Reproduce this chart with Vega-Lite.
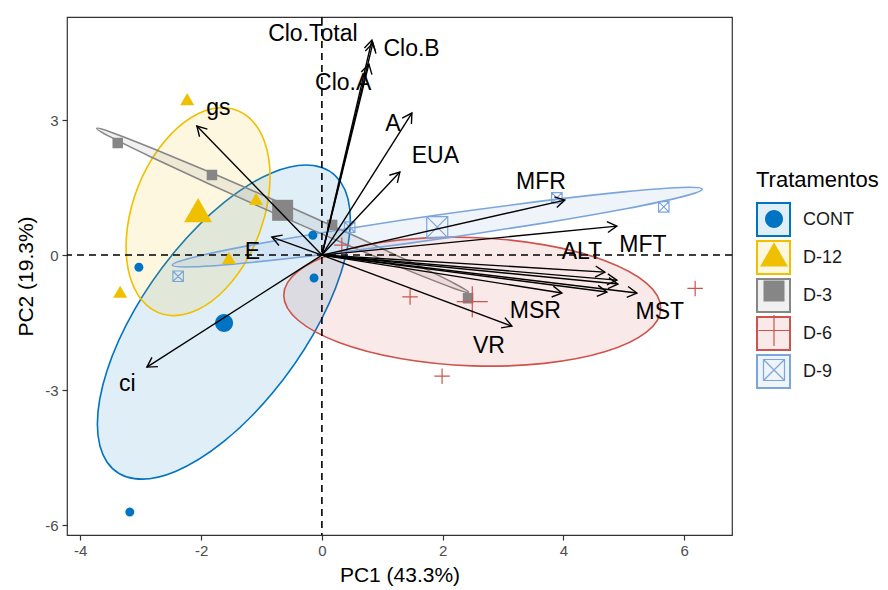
{
  "$schema": "https://vega.github.io/schema/vega-lite/v6.json",
  "width": 665,
  "height": 518,
  "autosize": "none",
  "padding": {"left": 67, "top": 17, "right": 156, "bottom": 55},
  "background": "white",
  "config": {
    "font": "Liberation Sans",
    "view": {"stroke": "#333333", "strokeWidth": 1.2},
    "axis": {
      "grid": false,
      "domain": false,
      "tickColor": "#333333",
      "tickSize": 5,
      "tickWidth": 1.2,
      "labelColor": "#4D4D4D",
      "labelFontSize": 15,
      "titleFontSize": 21,
      "titleFontWeight": "normal",
      "titleColor": "#000000"
    },
    "legend": {"padding": 0}
  },
  "datasets": {
    "elipses": [
      {"Tratamentos": "CONT", "k": 0, "PC1": 0.471, "PC2": 0.778},
      {"Tratamentos": "CONT", "k": 1, "PC1": 0.312, "PC2": -0.410},
      {"Tratamentos": "CONT", "k": 2, "PC1": -0.142, "PC2": -1.762},
      {"Tratamentos": "CONT", "k": 3, "PC1": -0.822, "PC2": -3.072},
      {"Tratamentos": "CONT", "k": 4, "PC1": -1.623, "PC2": -4.142},
      {"Tratamentos": "CONT", "k": 5, "PC1": -2.424, "PC2": -4.808},
      {"Tratamentos": "CONT", "k": 6, "PC1": -3.104, "PC2": -4.968},
      {"Tratamentos": "CONT", "k": 7, "PC1": -3.558, "PC2": -4.598},
      {"Tratamentos": "CONT", "k": 8, "PC1": -3.717, "PC2": -3.756},
      {"Tratamentos": "CONT", "k": 9, "PC1": -3.558, "PC2": -2.568},
      {"Tratamentos": "CONT", "k": 10, "PC1": -3.104, "PC2": -1.216},
      {"Tratamentos": "CONT", "k": 11, "PC1": -2.424, "PC2": 0.094},
      {"Tratamentos": "CONT", "k": 12, "PC1": -1.623, "PC2": 1.164},
      {"Tratamentos": "CONT", "k": 13, "PC1": -0.822, "PC2": 1.830},
      {"Tratamentos": "CONT", "k": 14, "PC1": -0.142, "PC2": 1.990},
      {"Tratamentos": "CONT", "k": 15, "PC1": 0.312, "PC2": 1.620},
      {"Tratamentos": "D-12", "k": 0, "PC1": -0.858, "PC2": 1.743},
      {"Tratamentos": "D-12", "k": 1, "PC1": -0.949, "PC2": 0.851},
      {"Tratamentos": "D-12", "k": 2, "PC1": -1.207, "PC2": -0.024},
      {"Tratamentos": "D-12", "k": 3, "PC1": -1.594, "PC2": -0.747},
      {"Tratamentos": "D-12", "k": 4, "PC1": -2.05, "PC2": -1.211},
      {"Tratamentos": "D-12", "k": 5, "PC1": -2.506, "PC2": -1.343},
      {"Tratamentos": "D-12", "k": 6, "PC1": -2.893, "PC2": -1.124},
      {"Tratamentos": "D-12", "k": 7, "PC1": -3.151, "PC2": -0.587},
      {"Tratamentos": "D-12", "k": 8, "PC1": -3.242, "PC2": 0.187},
      {"Tratamentos": "D-12", "k": 9, "PC1": -3.151, "PC2": 1.079},
      {"Tratamentos": "D-12", "k": 10, "PC1": -2.893, "PC2": 1.954},
      {"Tratamentos": "D-12", "k": 11, "PC1": -2.506, "PC2": 2.677},
      {"Tratamentos": "D-12", "k": 12, "PC1": -2.05, "PC2": 3.141},
      {"Tratamentos": "D-12", "k": 13, "PC1": -1.594, "PC2": 3.273},
      {"Tratamentos": "D-12", "k": 14, "PC1": -1.207, "PC2": 3.054},
      {"Tratamentos": "D-12", "k": 15, "PC1": -0.949, "PC2": 2.517},
      {"Tratamentos": "D-3", "k": 0, "PC1": 2.429, "PC2": -0.827},
      {"Tratamentos": "D-3", "k": 1, "PC1": 2.180, "PC2": -0.735},
      {"Tratamentos": "D-3", "k": 2, "PC1": 1.499, "PC2": -0.379},
      {"Tratamentos": "D-3", "k": 3, "PC1": 0.491, "PC2": 0.185},
      {"Tratamentos": "D-3", "k": 4, "PC1": -0.69, "PC2": 0.873},
      {"Tratamentos": "D-3", "k": 5, "PC1": -1.865, "PC2": 1.579},
      {"Tratamentos": "D-3", "k": 6, "PC1": -2.855, "PC2": 2.197},
      {"Tratamentos": "D-3", "k": 7, "PC1": -3.510, "PC2": 2.631},
      {"Tratamentos": "D-3", "k": 8, "PC1": -3.729, "PC2": 2.817},
      {"Tratamentos": "D-3", "k": 9, "PC1": -3.480, "PC2": 2.725},
      {"Tratamentos": "D-3", "k": 10, "PC1": -2.799, "PC2": 2.369},
      {"Tratamentos": "D-3", "k": 11, "PC1": -1.791, "PC2": 1.805},
      {"Tratamentos": "D-3", "k": 12, "PC1": -0.61, "PC2": 1.117},
      {"Tratamentos": "D-3", "k": 13, "PC1": 0.565, "PC2": 0.411},
      {"Tratamentos": "D-3", "k": 14, "PC1": 1.555, "PC2": -0.207},
      {"Tratamentos": "D-3", "k": 15, "PC1": 2.210, "PC2": -0.641},
      {"Tratamentos": "D-6", "k": 0, "PC1": 5.611, "PC2": -1.179},
      {"Tratamentos": "D-6", "k": 1, "PC1": 5.373, "PC2": -1.714},
      {"Tratamentos": "D-6", "k": 2, "PC1": 4.697, "PC2": -2.145},
      {"Tratamentos": "D-6", "k": 3, "PC1": 3.684, "PC2": -2.407},
      {"Tratamentos": "D-6", "k": 4, "PC1": 2.49, "PC2": -2.461},
      {"Tratamentos": "D-6", "k": 5, "PC1": 1.296, "PC2": -2.297},
      {"Tratamentos": "D-6", "k": 6, "PC1": 0.283, "PC2": -1.941},
      {"Tratamentos": "D-6", "k": 7, "PC1": -0.393, "PC2": -1.448},
      {"Tratamentos": "D-6", "k": 8, "PC1": -0.631, "PC2": -0.891},
      {"Tratamentos": "D-6", "k": 9, "PC1": -0.393, "PC2": -0.356},
      {"Tratamentos": "D-6", "k": 10, "PC1": 0.283, "PC2": 0.075},
      {"Tratamentos": "D-6", "k": 11, "PC1": 1.296, "PC2": 0.337},
      {"Tratamentos": "D-6", "k": 12, "PC1": 2.49, "PC2": 0.391},
      {"Tratamentos": "D-6", "k": 13, "PC1": 3.684, "PC2": 0.227},
      {"Tratamentos": "D-6", "k": 14, "PC1": 4.697, "PC2": -0.129},
      {"Tratamentos": "D-6", "k": 15, "PC1": 5.373, "PC2": -0.622},
      {"Tratamentos": "D-9", "k": 0, "PC1": 6.297, "PC2": 1.464},
      {"Tratamentos": "D-9", "k": 1, "PC1": 5.974, "PC2": 1.299},
      {"Tratamentos": "D-9", "k": 2, "PC1": 5.032, "PC2": 1.030},
      {"Tratamentos": "D-9", "k": 3, "PC1": 3.615, "PC2": 0.699},
      {"Tratamentos": "D-9", "k": 4, "PC1": 1.938, "PC2": 0.356},
      {"Tratamentos": "D-9", "k": 5, "PC1": 0.257, "PC2": 0.053},
      {"Tratamentos": "D-9", "k": 6, "PC1": -1.172, "PC2": -0.164},
      {"Tratamentos": "D-9", "k": 7, "PC1": -2.132, "PC2": -0.261},
      {"Tratamentos": "D-9", "k": 8, "PC1": -2.477, "PC2": -0.224},
      {"Tratamentos": "D-9", "k": 9, "PC1": -2.154, "PC2": -0.059},
      {"Tratamentos": "D-9", "k": 10, "PC1": -1.212, "PC2": 0.210},
      {"Tratamentos": "D-9", "k": 11, "PC1": 0.205, "PC2": 0.541},
      {"Tratamentos": "D-9", "k": 12, "PC1": 1.882, "PC2": 0.884},
      {"Tratamentos": "D-9", "k": 13, "PC1": 3.563, "PC2": 1.187},
      {"Tratamentos": "D-9", "k": 14, "PC1": 4.992, "PC2": 1.404},
      {"Tratamentos": "D-9", "k": 15, "PC1": 5.952, "PC2": 1.501}
    ],
    "individuos": [
      {"Tratamentos": "CONT", "tipo": "individuo", "PC1": -3.03, "PC2": -0.27},
      {"Tratamentos": "CONT", "tipo": "individuo", "PC1": -3.18, "PC2": -5.71},
      {"Tratamentos": "CONT", "tipo": "individuo", "PC1": -0.15, "PC2": 0.44},
      {"Tratamentos": "CONT", "tipo": "individuo", "PC1": -0.13, "PC2": -0.51},
      {"Tratamentos": "CONT", "tipo": "media", "PC1": -1.62, "PC2": -1.51},
      {"Tratamentos": "D-12", "tipo": "individuo", "PC1": -2.23, "PC2": 3.42},
      {"Tratamentos": "D-12", "tipo": "individuo", "PC1": -3.34, "PC2": -0.86},
      {"Tratamentos": "D-12", "tipo": "individuo", "PC1": -1.54, "PC2": -0.11},
      {"Tratamentos": "D-12", "tipo": "individuo", "PC1": -1.09, "PC2": 1.20},
      {"Tratamentos": "D-12", "tipo": "media", "PC1": -2.05, "PC2": 0.91},
      {"Tratamentos": "D-3", "tipo": "individuo", "PC1": -3.38, "PC2": 2.49},
      {"Tratamentos": "D-3", "tipo": "individuo", "PC1": -1.82, "PC2": 1.78},
      {"Tratamentos": "D-3", "tipo": "individuo", "PC1": 0.17, "PC2": 0.67},
      {"Tratamentos": "D-3", "tipo": "individuo", "PC1": 2.42, "PC2": -0.96},
      {"Tratamentos": "D-3", "tipo": "media", "PC1": -0.65, "PC2": 0.995},
      {"Tratamentos": "D-6", "tipo": "individuo", "PC1": 1.46, "PC2": -0.93},
      {"Tratamentos": "D-6", "tipo": "individuo", "PC1": 1.99, "PC2": -2.69},
      {"Tratamentos": "D-6", "tipo": "individuo", "PC1": 6.18, "PC2": -0.74},
      {"Tratamentos": "D-6", "tipo": "individuo", "PC1": 0.33, "PC2": 0.22},
      {"Tratamentos": "D-6", "tipo": "media", "PC1": 2.49, "PC2": -1.035},
      {"Tratamentos": "D-9", "tipo": "individuo", "PC1": -2.38, "PC2": -0.47},
      {"Tratamentos": "D-9", "tipo": "individuo", "PC1": 3.89, "PC2": 1.27},
      {"Tratamentos": "D-9", "tipo": "individuo", "PC1": 5.66, "PC2": 1.07},
      {"Tratamentos": "D-9", "tipo": "individuo", "PC1": 0.46, "PC2": 0.62},
      {"Tratamentos": "D-9", "tipo": "media", "PC1": 1.91, "PC2": 0.62}
    ],
    "setas": [
      {"PC1": 0.828, "PC2": 4.778},
      {"PC1": 0.844, "PC2": 4.711},
      {"PC1": 0.778, "PC2": 4.244},
      {"PC1": 1.49, "PC2": 3.156},
      {"PC1": 1.291, "PC2": 1.844},
      {"PC1": 4.023, "PC2": 1.222},
      {"PC1": 4.884, "PC2": 0.644},
      {"PC1": 4.685, "PC2": -0.378},
      {"PC1": 4.884, "PC2": -0.556},
      {"PC1": 4.901, "PC2": -0.644},
      {"PC1": 4.719, "PC2": -0.822},
      {"PC1": 5.215, "PC2": -0.844},
      {"PC1": 3.974, "PC2": -0.844},
      {"PC1": 3.146, "PC2": -1.578},
      {"PC1": -2.07, "PC2": 2.867},
      {"PC1": -0.828, "PC2": 0.4},
      {"PC1": -2.897, "PC2": -2.489}
    ],
    "rotulos": [
      {"variavel": "Clo.Total", "PC1": -0.149, "PC2": 4.92},
      {"variavel": "Clo.B", "PC1": 1.485, "PC2": 4.589},
      {"variavel": "Clo.A", "PC1": 0.353, "PC2": 3.833},
      {"variavel": "A", "PC1": 1.176, "PC2": 2.911},
      {"variavel": "EUA", "PC1": 1.879, "PC2": 2.2},
      {"variavel": "MFR", "PC1": 3.626, "PC2": 1.633},
      {"variavel": "MFT", "PC1": 5.315, "PC2": 0.222},
      {"variavel": "ALT", "PC1": 4.305, "PC2": 0.078},
      {"variavel": "MSR", "PC1": 3.535, "PC2": -1.233},
      {"variavel": "MST", "PC1": 5.596, "PC2": -1.267},
      {"variavel": "VR", "PC1": 2.765, "PC2": -2.011},
      {"variavel": "E", "PC1": -1.151, "PC2": 0.078},
      {"variavel": "gs", "PC1": -1.713, "PC2": 3.267},
      {"variavel": "ci", "PC1": -3.22, "PC2": -2.86}
    ]
  },
  "resolve": {"scale": {"fill": "independent", "stroke": "independent", "shape": "independent"}},
  "layer": [
    {
      "data": {"name": "elipses"},
      "mark": {"type": "line", "interpolate": "cardinal-closed", "strokeWidth": 1.6, "fillOpacity": 0.12},
      "encoding": {
        "x": {
          "field": "PC1", "type": "quantitative", "title": "PC1 (43.3%)",
          "scale": {"domain": [-4.22, 6.79], "nice": false, "zero": false},
          "axis": {"values": [-4, -2, 0, 2, 4, 6], "labelExpr": "toString(datum.value)", "labelPadding": 3, "titlePadding": 6}
        },
        "y": {
          "field": "PC2", "type": "quantitative", "title": "PC2 (19.3%)",
          "scale": {"domain": [-6.22, 5.29], "nice": false, "zero": false},
          "axis": {"values": [-6, -3, 0, 3], "labelExpr": "toString(datum.value)", "labelPadding": 4, "titlePadding": 8}
        },
        "order": {"field": "k", "type": "quantitative"},
        "stroke": {
          "field": "Tratamentos", "type": "nominal",
          "scale": {"domain": ["CONT", "D-12", "D-3", "D-6", "D-9"], "range": ["#0073C2", "#EFC000", "#868686", "#CD534C", "#7AA6DC"]},
          "legend": {
            "orient": "none", "legendX": 689, "legendY": 153, "title": "Tratamentos",
            "titleFontSize": 22, "titleFontWeight": "normal", "titleColor": "#000000", "titlePadding": 10,
            "symbolType": "square", "symbolSize": 1089, "symbolStrokeWidth": 2, "rowPadding": -4,
            "labelFontSize": 18, "labelColor": "#1A1A1A", "labelOffset": 12,
            "encode": {"symbols": {"update": {"fillOpacity": {"value": 0.12}}}}
          }
        },
        "fill": {
          "field": "Tratamentos", "type": "nominal",
          "scale": {"domain": ["CONT", "D-12", "D-3", "D-6", "D-9"], "range": ["#0073C2", "#EFC000", "#868686", "#CD534C", "#7AA6DC"]},
          "legend": {
            "orient": "none", "legendX": 689, "legendY": 153, "title": "Tratamentos",
            "titleFontSize": 22, "titleFontWeight": "normal", "titleColor": "#000000", "titlePadding": 10,
            "symbolType": "square", "symbolSize": 1089, "symbolStrokeWidth": 2, "rowPadding": -4,
            "labelFontSize": 18, "labelColor": "#1A1A1A", "labelOffset": 12,
            "encode": {"symbols": {"update": {"fillOpacity": {"value": 0.12}}}}
          }
        }
      }
    },
    {
      "data": {"values": [{}]},
      "mark": {"type": "rule", "color": "#000000", "strokeWidth": 1.6, "strokeDash": [7, 5]},
      "encoding": {"x": {"datum": 0, "type": "quantitative"}}
    },
    {
      "data": {"values": [{}]},
      "mark": {"type": "rule", "color": "#000000", "strokeWidth": 1.6, "strokeDash": [7, 5]},
      "encoding": {"y": {"datum": 0, "type": "quantitative"}}
    },
    {
      "data": {"name": "individuos"},
      "mark": {"type": "point", "filled": false, "strokeWidth": 1.2, "opacity": 1},
      "encoding": {
        "x": {"field": "PC1", "type": "quantitative"},
        "y": {"field": "PC2", "type": "quantitative"},
        "shape": {
          "field": "Tratamentos", "type": "nominal",
          "scale": {
            "domain": ["CONT", "D-12", "D-3", "D-6", "D-9"],
            "range": [
              "M0.9,0A0.9,0.9,0,1,1,-0.9,0A0.9,0.9,0,1,1,0.9,0Z",
              "M0,-1.617L1.4,0.808L-1.4,0.808Z",
              "M-1.05,-1.05H1.05V1.05H-1.05Z",
              "M-1.55,0H1.55M0,-1.55V1.55",
              "M-1.05,-1.05H1.05V1.05H-1.05ZM-1.05,-1.05L1.05,1.05M-1.05,1.05L1.05,-1.05"
            ]
          },
          "legend": {
            "orient": "none", "legendX": 696, "legendY": 191, "title": null,
            "symbolSize": 400, "symbolStrokeWidth": 1.2, "rowPadding": 8.5,
            "labelExpr": "''", "labelFontSize": 18, "labelOffset": 12
          }
        },
        "fill": {
          "field": "Tratamentos", "type": "nominal",
          "scale": {"domain": ["CONT", "D-12", "D-3", "D-6", "D-9"], "range": ["#0073C2", "#EFC000", "#868686", "transparent", "transparent"]},
          "legend": {
            "orient": "none", "legendX": 696, "legendY": 191, "title": null,
            "symbolSize": 400, "symbolStrokeWidth": 1.2, "rowPadding": 8.5,
            "labelExpr": "''", "labelFontSize": 18, "labelOffset": 12
          }
        },
        "stroke": {
          "field": "Tratamentos", "type": "nominal",
          "scale": {"domain": ["CONT", "D-12", "D-3", "D-6", "D-9"], "range": ["transparent", "transparent", "transparent", "#CD534C", "#7AA6DC"]},
          "legend": {
            "orient": "none", "legendX": 696, "legendY": 191, "title": null,
            "symbolSize": 400, "symbolStrokeWidth": 1.2, "rowPadding": 8.5,
            "labelExpr": "''", "labelFontSize": 18, "labelOffset": 12
          }
        },
        "size": {
          "field": "tipo", "type": "ordinal",
          "scale": {"domain": ["individuo", "media"], "range": [100, 400]},
          "legend": null
        }
      }
    },
    {
      "data": {"name": "setas"},
      "mark": {"type": "rule", "color": "#000000", "strokeWidth": 1.4},
      "encoding": {
        "x": {"field": "PC1", "type": "quantitative"},
        "y": {"field": "PC2", "type": "quantitative"},
        "x2": {"datum": 0},
        "y2": {"datum": 0}
      }
    },
    {
      "data": {"name": "setas"},
      "transform": [{"calculate": "atan2(datum.PC1 * 60.4, datum.PC2 * 45) * 180 / PI", "as": "angulo"}],
      "mark": {"type": "point", "shape": "M-1,1.732L0,0L1,1.732", "size": 121, "filled": false, "color": "#000000", "strokeWidth": 1.4, "opacity": 1},
      "encoding": {
        "x": {"field": "PC1", "type": "quantitative"},
        "y": {"field": "PC2", "type": "quantitative"},
        "angle": {"field": "angulo", "type": "quantitative", "scale": null}
      }
    },
    {
      "data": {"name": "rotulos"},
      "mark": {"type": "text", "fontSize": 23, "color": "#000000", "align": "center", "baseline": "middle"},
      "encoding": {
        "x": {"field": "PC1", "type": "quantitative"},
        "y": {"field": "PC2", "type": "quantitative"},
        "text": {"field": "variavel"}
      }
    }
  ]
}
